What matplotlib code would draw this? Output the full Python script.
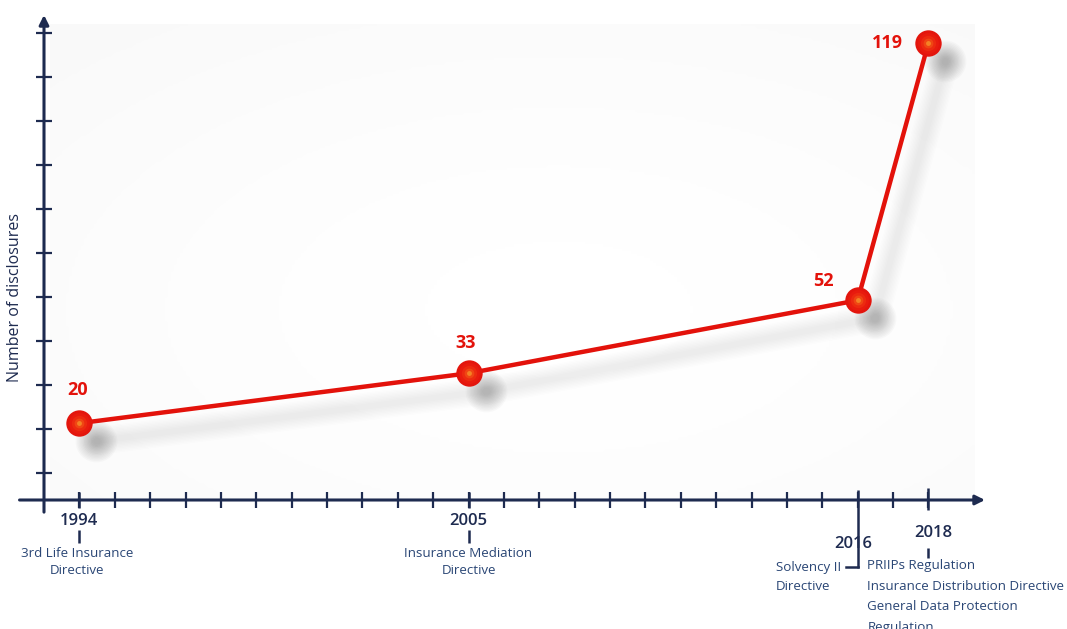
import numpy as np
import matplotlib.pyplot as plt
from matplotlib import transforms

plt.rcParams['font.family'] = ['Open Sans', 'DejaVu Sans']

# Daten
years = [1994, 2005, 2016, 2018]
disclosures = [20, 33, 52, 119]
value_labels = ['20', '33', '52', '119']
directive_1994 = '3rd Life Insurance\nDirective'
directive_2005 = 'Insurance Mediation\nDirective'
directive_2016 = 'Solvency II\nDirective'
directive_2018 = 'PRIIPs Regulation\nInsurance Distribution Directive\nGeneral Data Protection\nRegulation'
y_label = 'Number of disclosures'

navy = '#1e2b50'
text_blue = '#2a4675'
red = '#e3120b'

fig = plt.figure(figsize=(10.67, 6.29), dpi=100)
ax = fig.add_axes([44 / 1067, 129 / 629, 941 / 1067, 485 / 629])
ax.set_xlim(1993, 2019.6)
ax.set_ylim(0, 126.3)
for s in ax.spines.values():
    s.set_visible(False)

# leichter Hintergrund-Verlauf
gx, gy = np.meshgrid(np.linspace(-1, 1, 300), np.linspace(-1, 1, 200))
r = np.clip(np.sqrt((gx - 0.1) ** 2 + (gy + 0.2) ** 2) / 1.5, 0, 1)
ax.imshow(r ** 1.5, extent=(1993.17, 2019.3, 0, 123.7), origin='lower', cmap='Greys',
          vmin=0, vmax=22, aspect='auto', zorder=0, interpolation='bilinear')

# Achsen mit Pfeilen
ax.annotate('', xy=(1.0, 0), xytext=(-0.026, 0), xycoords='axes fraction',
            arrowprops=dict(arrowstyle='-|>', color=navy, lw=2.2, mutation_scale=14,
                            shrinkA=0, shrinkB=0))
ax.annotate('', xy=(0, 1.0), xytext=(0, -0.025), xycoords='axes fraction',
            arrowprops=dict(arrowstyle='-|>', color=navy, lw=2.2, mutation_scale=14,
                            shrinkA=0, shrinkB=0))
ax.set_xticks(np.arange(1994, 2019))
ax.set_yticks(np.arange(7, 125, 11.46))
ax.tick_params(axis='both', length=12, width=1.6, direction='inout', color=navy,
               labelbottom=False, labelleft=False)
fig.text(15 / 1067, 1 - 298 / 629, y_label, rotation=90, ha='center', va='center',
         fontsize=11.5, color=navy)

# Schatten (weich)
sh = transforms.offset_copy(ax.transData, fig=fig, x=17, y=-18, units='dots')
for lw in np.linspace(4, 20, 9):
    ax.plot(years, disclosures, color='#777777', lw=lw, alpha=0.012, transform=sh,
            solid_capstyle='round', zorder=1)
for ms in np.linspace(6, 30, 13):
    ax.plot(years, disclosures, 'o', color='#666666', ms=ms, alpha=0.035,
            transform=sh, markeredgewidth=0, zorder=1)

# Linie und Punkte
ax.plot(years, disclosures, color=red, lw=3.2, zorder=3)
for ms, c, a in [(19, '#e3150d', 1), (15, '#e81b0e', 1), (11, '#ec2a10', 1),
                 (7, '#f04a14', 0.9), (3.5, '#f6922a', 0.8)]:
    ax.plot(years, disclosures, 'o', color=c, ms=ms, alpha=a, markeredgewidth=0, zorder=4)

offsets = [(-2, 33, 'center'), (-3, 30, 'center'), (-24, 19, 'right'), (-25, 0, 'right')]
for x, y, lab, (dx, dy, ha) in zip(years, disclosures, value_labels, offsets):
    ax.annotate(lab, (x, y), xytext=(dx, dy), textcoords='offset pixels', ha=ha,
                va='center', fontsize=13, fontweight='bold', color=red, zorder=5)

# Jahresbeschriftungen und Richtlinien
def year_label(x, dy, dx=0):
    ax.annotate(str(x), (x, 0), xytext=(dx, dy), textcoords='offset pixels',
                ha='center', va='center', fontsize=12, fontweight=600, color=navy,
                annotation_clip=False)

def vline(x, y0, y1):
    t = transforms.blended_transform_factory(ax.transData, fig.dpi_scale_trans)
    ax.plot([x, x], [(629 - y0) / 100, (629 - y1) / 100], color=navy, lw=1.8,
            transform=t, clip_on=False, solid_capstyle='butt')

def desc(x, text, dx, dy, ha, spacing=1.3):
    ax.annotate(text, (x, 0), xytext=(dx, dy), textcoords='offset pixels', ha=ha,
                va='top', fontsize=9.6, color=text_blue, linespacing=spacing,
                multialignment=ha, annotation_clip=False)

year_label(1994, -21)
vline(1994, 492, 508)
vline(1994, 530, 543)
desc(1994, directive_1994, -2, -47, 'center', spacing=1.35)

year_label(2005, -21)
vline(2005, 492, 508)
vline(2005, 530, 543)
desc(2005, directive_2005, 0, -47, 'center', spacing=1.35)

year_label(2016, -44, -4)
vline(2016, 490, 568)
t2 = transforms.blended_transform_factory(fig.dpi_scale_trans, fig.dpi_scale_trans)
ax.plot([846 / 100, 858 / 100], [(629 - 567) / 100] * 2, color=navy, lw=1.8,
        transform=t2, clip_on=False)
desc(2016, directive_2016, -82, -61, 'left', spacing=1.55)

year_label(2018, -33, 5)
vline(2018, 488, 510)
vline(2018, 548, 558)
desc(2018, directive_2018, -61, -59, 'left', spacing=1.75)

plt.savefig('out.png', dpi=100)
